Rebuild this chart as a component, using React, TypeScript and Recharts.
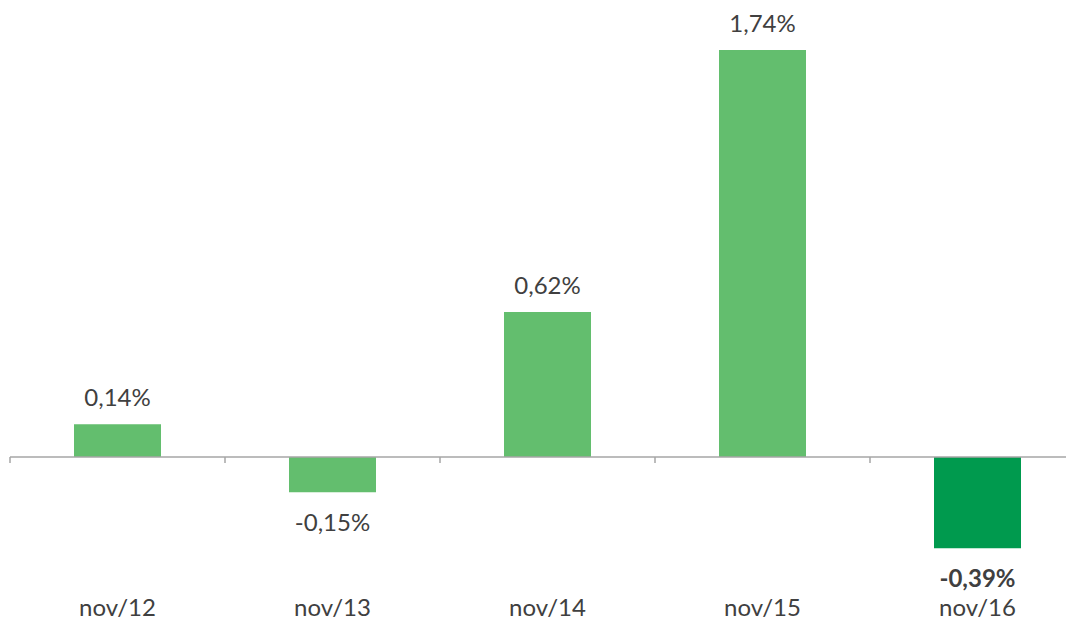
import { Bar, BarChart, Cell, LabelList, ReferenceLine, XAxis, YAxis } from 'recharts'

const months = ['nov/12', 'nov/13', 'nov/14', 'nov/15', 'nov/16']
const changes = [0.14, -0.15, 0.62, 1.74, -0.39]
const highlight = [false, false, false, false, true]

const data = months.map((name, i) => ({ name, value: changes[i], hi: highlight[i] }))

const textColor = '#404040'
const font = 'Lato, "Open Sans", sans-serif'

const fmt = (v: number) => v.toFixed(2).replace('.', ',') + '%'

function CatTick(props: any) {
  const { x, y, payload } = props
  return (
    <text x={x} y={y + 34} textAnchor='middle' fill={textColor} fontSize={24} fontFamily={font}>
      {payload.value}
    </text>
  )
}

function ValueLabel(props: any) {
  const { x, y, width, height, value, index } = props
  const top = Math.min(y, y + height)
  const bottom = Math.max(y, y + height)
  const cx = x + width / 2
  const neg = value < 0
  return (
    <text
      x={cx}
      y={neg ? bottom + 39 : top - 18}
      textAnchor='middle'
      fill={textColor}
      fontSize={24}
      fontFamily={font}
      fontWeight={highlight[index] ? 700 : 400}
    >
      {fmt(value)}
    </text>
  )
}

function ZeroAxis(props: any) {
  const { x1, y1, x2, y2 } = props
  const step = (x2 - x1) / months.length
  return (
    <g>
      <line x1={x1} y1={y1} x2={x2} y2={y2} stroke='#a6a6a6' strokeWidth={1.5} />
      {Array.from({ length: months.length + 1 }, (_, i) => (
        <line key={i} x1={x1 + i * step} x2={x1 + i * step} y1={y1} y2={y1 + 6} stroke='#a6a6a6' strokeWidth={1.5} />
      ))}
    </g>
  )
}

export default function App() {
  return (
    <div style={{ width: 1066, overflow: 'hidden' }}>
      <BarChart
        width={1077}
        height={613}
        data={data}
        margin={{ top: 42, right: 0, bottom: 0, left: 2 }}
      >
        <XAxis
          dataKey='name'
          axisLine={false}
          tickLine={false}
          height={47}
          tick={<CatTick />}
          interval={0}
        />
        <YAxis hide type='number' domain={[-0.5, 1.74]} allowDataOverflow />
        <ReferenceLine y={0} shape={<ZeroAxis />} />
        <Bar dataKey='value' barSize={87} isAnimationActive={false}>
          {data.map((d, i) => (
            <Cell key={i} fill={d.hi ? '#009a4e' : '#63be6e'} />
          ))}
          <LabelList dataKey='value' content={<ValueLabel />} />
        </Bar>
      </BarChart>
    </div>
  )
}
